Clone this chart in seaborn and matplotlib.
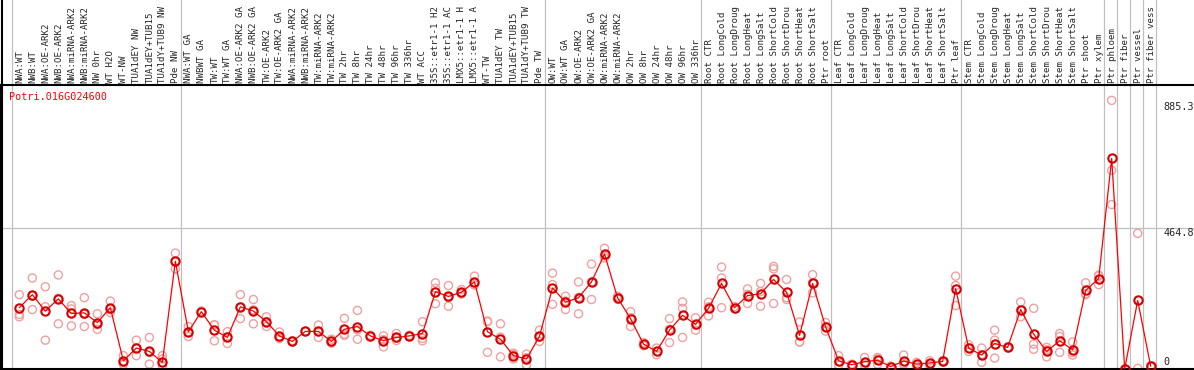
import numpy as np
import pandas as pd
import seaborn as sns
import matplotlib
matplotlib.use("Agg")
import matplotlib.pyplot as plt

gen = "Potri.016G024600"

# grupos de muestras (cada grupo va separado por una linea gris)
grupo_nw = ["NWA:WT", "NWB:WT", "NWA:OE-ARK2", "NWB:OE-ARK2", "NWA:miRNA-ARK2",
            "NWB:miRNA-ARK2", "NW 0hr", "WT H2O", "WT-NW", "TUA1dEY NW",
            "TUA1dEY+TUB15 NW", "TUA1dY+TUB9 NW", "Pde NW"]
grupo_tw = ["NWA:WT GA", "NWBWT GA", "TW:WT", "TW:WT GA", "NWA:OE-ARK2 GA",
            "NWB:OE-ARK2 GA", "TW:OE-ARK2", "TW:OE-ARK2 GA", "NWA:miRNA-ARK2",
            "NWB:miRNA-ARK2", "TW:miRNA-ARK2", "TW:miRNA-ARK2", "TW 2hr", "TW 8hr",
            "TW 24hr", "TW 48hr", "TW 96hr", "TW 336hr", "WT ACC", "35S::etr1-1 H2O",
            "35S::etr1-1 ACC", "LMX5::etr1-1 H2O", "LMX5::etr1-1 ACC", "WT-TW",
            "TUA1dEY TW", "TUA1dEY+TUB15 TW", "TUA1dY+TUB9 TW", "Pde TW"]
grupo_ow = ["OW:WT", "OW:WT GA", "OW:OE-ARK2", "OW:OE-ARK2 GA", "OW:miRNA-ARK2",
            "OW:miRNA-ARK2", "OW 2hr", "OW 8hr", "OW 24hr", "OW 48hr", "OW 96hr", "OW 336hr"]
grupo_root = ["Root CTR", "Root LongCold", "Root LongDrought", "Root LongHeat",
              "Root LongSalt", "Root ShortCold", "Root ShortDrought", "Root ShortHeat",
              "Root ShortSalt", "Ptr root"]
grupo_leaf = ["Leaf CTR", "Leaf LongCold", "Leaf LongDrought", "Leaf LongHeat",
              "Leaf LongSalt", "Leaf ShortCold", "Leaf ShortDrought", "Leaf ShortHeat",
              "Leaf ShortSalt", "Ptr leaf"]
grupo_stem = ["Stem CTR", "Stem LongCold", "Stem LongDrought", "Stem LongHeat",
              "Stem LongSalt", "Stem ShortCold", "Stem ShortDrought", "Stem ShortHeat",
              "Stem ShortSalt", "Ptr shoot", "Ptr xylem"]
grupos = [grupo_nw, grupo_tw, grupo_ow, grupo_root, grupo_leaf, grupo_stem,
          ["Ptr phloem"], ["Ptr fiber"], ["Ptr vessel"], ["Ptr fiber vessel"]]

# promedio por muestra
promedios = [202, 245, 191, 231, 183, 185, 153, 202, 27, 69, 58, 22, 355,
             123, 189, 128, 104, 205, 191, 156, 109, 91, 124, 124, 91, 131, 140,
             109, 93, 104, 109, 117, 255, 239, 253, 287, 123, 98, 44, 33, 108,
             267, 220, 235, 287, 379, 235, 166, 82, 58, 128, 177, 147,
             200, 282, 202, 242, 248, 295, 253, 111, 282, 139,
             27, 14, 24, 29, 8, 26, 16, 20, 25, 265,
             69, 46, 84, 71, 196, 115, 58, 93, 63, 259, 298,
             694, 0, 226, 9]

# replicas por muestra
replicas = [[245, 180, 172], [300, 196, 240], [271, 205, 95], [310, 149, 233],
            [209, 142, 198], [235, 140, 180], [182, 131, 146], [224, 196, 186],
            [44, 22, 15], [95, 44, 68], [104, 16, 54], [44, 33, 11], [382, 330, 353],
            [140, 107, 122], [191, 187], [145, 93, 146], [123, 84, 105],
            [245, 166, 204], [229, 149, 195], [172, 140, 156], [122, 100, 105],
            [93, 89], [124, 124], [145, 104, 123], [98, 85, 90], [167, 111, 115],
            [193, 98, 129], [111, 107], [109, 73, 97], [117, 101, 94], [111, 107],
            [156, 101, 93], [284, 215, 266], [275, 207, 235], [262, 250, 247],
            [306, 278, 277], [156, 55, 158], [149, 40, 105], [52, 33, 47],
            [49, 13, 37], [128, 91, 105],
            [316, 278, 213], [240, 196, 224], [287, 182, 236], [346, 229, 286],
            [398, 366, 373], [240, 230], [189, 140, 169], [87, 77], [69, 47],
            [166, 87, 131], [221, 200, 104], [169, 128, 144],
            [220, 175, 205], [336, 300, 202], [206, 198], [264, 216, 246],
            [282, 207, 255], [338, 330, 216], [295, 235, 229], [155, 89, 89],
            [311, 251, 284], [139, 125, 153],
            [44, 13, 24], [16, 12], [38, 13, 21], [38, 16, 33], [10, 6],
            [46, 16, 16], [22, 10], [27, 13], [27, 23], [306, 275, 209],
            [80, 58, 69], [69, 22, 47], [128, 95, 36], [73, 69], [221, 172, 195],
            [200, 82, 65], [71, 40, 63], [117, 107, 55], [89, 46, 54],
            [284, 245, 248], [309, 278, 307],
            [885.3, 655, 542], [0, 0], [447, 2], [11, 7]]

ticks_y = [0, 464.8, 885.3]

etiquetas = [m for g in grupos for m in g]
x = np.arange(len(etiquetas))

filas = []
for i, reps in enumerate(replicas):
    for v in reps:
        filas.append({"muestra": i, "valor": v})
df_rep = pd.DataFrame(filas)
df_prom = pd.DataFrame({"muestra": x, "valor": promedios})

sns.set_style("white")
plt.rcParams["font.family"] = ["DejaVu Sans Mono", "DejaVu Sans"]

fig = plt.figure(figsize=(11.94, 3.70), dpi=100)
ax = fig.add_axes([1 / 1194, 1 / 370, 1193 / 1194, 284 / 370])

sns.scatterplot(data=df_rep, x="muestra", y="valor", ax=ax, marker="o",
                facecolors="none", edgecolor="#f0a0a0", linewidth=1.0, s=34,
                zorder=2, legend=False)
sns.lineplot(data=df_prom, x="muestra", y="valor", ax=ax, color="red",
             linewidth=0.9, marker="o", markersize=6, markerfacecolor="none",
             markeredgecolor="#d40000", markeredgewidth=1.5, zorder=3)

ax.set_xlim(-1.408, 90.33)
ax.set_ylim(0, 936)
ax.set_xticks([])
ax.set_yticks([])
ax.set_xlabel("")
ax.set_ylabel("")
for lado in ["left", "bottom", "top"]:
    ax.spines[lado].set_color("black")
    ax.spines[lado].set_linewidth(1.5)
ax.spines["right"].set_visible(False)

# separadores de grupos
inicio = 0
for g in grupos:
    ax.axvline(inicio - 0.6, ymin=0, ymax=370 / 284, color="#c0c0c0",
               linewidth=0.9, clip_on=False, zorder=1)
    inicio += len(g)
ax.axvline(inicio - 0.6, ymin=0, ymax=370 / 284, color="#c0c0c0",
           linewidth=0.9, clip_on=False, zorder=1)
ax.axhline(464.8, color="#c0c0c0", linewidth=0.9, zorder=1)

fig.add_artist(plt.Line2D([1.5 / 1194] * 2, [0, 1], color="black", lw=1.5))

# etiquetas verticales arriba (el original solo muestra 14 caracteres)
for i, et in enumerate(etiquetas):
    ax.annotate(et[:14].rstrip(), xy=(i, 1), xycoords=("data", "axes fraction"),
                xytext=(0.5, 2), textcoords="offset pixels", rotation=90,
                ha="center", va="bottom", fontsize=6.6, annotation_clip=False)

# valores del eje a la derecha
desfases = [7, -4.7, -6.6]
for v, d in zip(ticks_y, desfases):
    txt = "0" if v == 0 else f"{v:.1f}"
    ax.annotate(txt, xy=(88.0, v), xytext=(0, d), textcoords="offset pixels",
                ha="left", va="center", fontsize=7.3, annotation_clip=False)

ax.annotate(gen, xy=(0, 1), xycoords="axes fraction", xytext=(8, -12),
            textcoords="offset pixels", ha="left", va="center", color="red",
            fontsize=7.3)

plt.savefig("out.png", dpi=100)
